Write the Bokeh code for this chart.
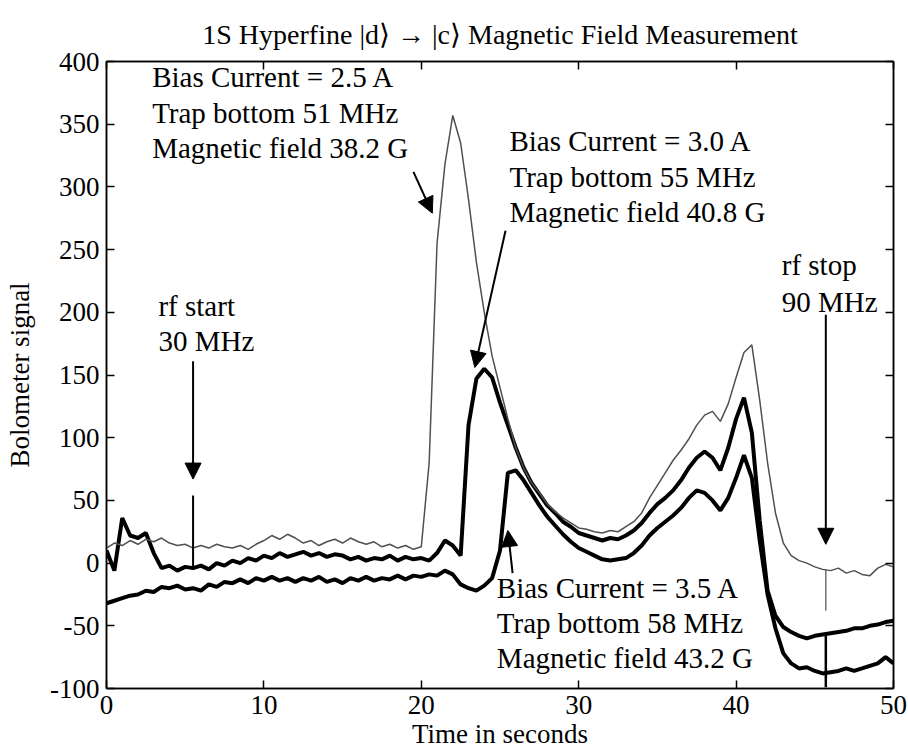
import numpy as np
from bokeh.plotting import figure
from bokeh.models import (Range1d, LinearAxis, FixedTicker, Arrow, NormalHead, Label)
from bokeh.embed import file_html
from bokeh.resources import INLINE

# ---------------- data ----------------
time_s = np.arange(0, 50.5, 0.5)

bias_25A = [12, 16, 14, 18, 15, 19, 17, 20, 16, 14,
            15, 12, 14, 12, 15, 13, 12, 14, 11, 15,
            18, 22, 19, 23, 20, 16, 18, 14, 17, 19,
            16, 20, 17, 15, 17, 13, 15, 12, 14, 11,
            13, 80, 255, 318, 357, 335, 290, 240, 200, 165,
            140, 115, 92, 76, 64, 56, 47, 41, 36, 32,
            28, 27, 25, 24, 26, 25, 29, 33, 40, 52,
            62, 72, 82, 90, 99, 110, 118, 121, 113, 127,
            148, 168, 174, 130, 80, 40, 16, 6, 2, 0,
            -3, -5, -6, -4, -8, -6, -9, -10, -4, -1,
            -3]

bias_30A = [10, -6, 36, 22, 20, 24, 8, -4, -2, -6,
            -3, -4, -2, -5, 0, -2, 2, 0, 4, 2,
            6, 4, 8, 5, 7, 9, 6, 8, 5, 7,
            6, 3, 5, 2, 4, 3, 6, 2, 5, 3,
            4, 2, 8, 18, 14, 6, 110, 147, 155, 148,
            128, 110, 92, 76, 64, 55, 46, 40, 33, 29,
            24, 22, 20, 18, 20, 19, 22, 26, 32, 40,
            47, 52, 58, 66, 76, 84, 89, 84, 74, 92,
            115, 132, 104, 34, -22, -42, -51, -55, -58, -60,
            -58, -57, -56, -55, -54, -52, -52, -50, -49, -47,
            -46]

bias_35A = [-32, -30, -28, -26, -25, -22, -23, -19, -20, -18,
            -21, -20, -22, -17, -19, -15, -16, -13, -16, -12,
            -14, -11, -14, -12, -15, -12, -14, -11, -15, -13,
            -16, -12, -14, -11, -14, -12, -13, -10, -13, -10,
            -11, -9, -10, -6, -9, -17, -20, -22, -18, -12,
            10, 72, 74, 66, 56, 46, 37, 30, 23, 17,
            12, 9, 6, 3, 2, 3, 4, 8, 14, 22,
            28, 33, 38, 44, 52, 58, 56, 50, 42, 52,
            68, 86, 68, 18, -25, -52, -72, -80, -84, -83,
            -86, -88, -87, -86, -84, -86, -84, -82, -80, -75,
            -80]

# rf artefacts (time, from, to)
rf_start_t, rf_start_spike = 5.5, [-4, 54]
rf_stop_t, rf_stop_spike_dark, rf_stop_spike_thin = 45.7, [-99, -56], [-5, -38]

# annotation arrows: tail (x, y) -> head (x, y)
arrow_x0 = [19.5, 25.35, 25.8, 5.5, 45.7]
arrow_y0 = [312, 265, -8, 161, 198]
arrow_x1 = [20.7, 23.4, 25.5, 5.5, 45.7]
arrow_y1 = [279, 156, 26, 67, 15]

x_ticks = [0, 10, 20, 30, 40, 50]
y_ticks = [-100, -50, 0, 50, 100, 150, 200, 250, 300, 350, 400]

title_text = "1S Hyperfine |d\u27e9 \u2192 |c\u27e9 Magnetic Field Measurement"

FONT = "Liberation Serif"

p = figure(width=908, height=756, output_backend="svg", toolbar_location=None,
           x_range=Range1d(0, 50), y_range=Range1d(-100, 400),
           min_border_left=106, min_border_right=15, min_border_top=61,
           min_border_bottom=68, title=title_text)
p.title.align = "center"
p.title.vertical_align = "top"
p.title.offset = 50
p.title.standoff = 20
p.title.text_font = FONT
p.title.text_font_size = "28px"
p.title.text_font_style = "normal"
p.title.text_color = "black"
p.grid.visible = False
p.outline_line_color = "black"
p.outline_line_width = 1.5
p.background_fill_color = "white"
p.border_fill_color = "white"

for ax, ticks in ((p.xaxis[0], x_ticks), (p.yaxis[0], y_ticks)):
    ax.ticker = FixedTicker(ticks=ticks)
    ax.major_tick_in = 8
    ax.major_tick_out = 0
    ax.minor_tick_line_color = None
    ax.axis_line_width = 1.5
    ax.major_tick_line_width = 1.5
    ax.major_label_text_font = FONT
    ax.major_label_text_font_size = "27px"
    ax.major_label_text_color = "black"
    ax.axis_label_text_font = FONT
    ax.axis_label_text_font_size = "27px"
    ax.axis_label_text_font_style = "normal"
    ax.axis_label_text_color = "black"
    ax.major_label_standoff = 7

p.yaxis[0].major_label_overrides = {v: str(v) for v in y_ticks}
p.xaxis[0].axis_label = "Time in seconds"
p.yaxis[0].axis_label = "Bolometer signal"
p.yaxis[0].axis_label_standoff = 12
p.xaxis[0].axis_label_standoff = 2

top = LinearAxis(ticker=FixedTicker(ticks=x_ticks), major_label_text_font_size="0px",
                 major_tick_in=8, major_tick_out=0, minor_tick_line_color=None,
                 axis_line_width=1.5, major_tick_line_width=1.5, major_label_standoff=0)
right = LinearAxis(ticker=FixedTicker(ticks=y_ticks), major_label_text_font_size="0px",
                   major_tick_in=8, major_tick_out=0, minor_tick_line_color=None,
                   axis_line_width=1.5, major_tick_line_width=1.5, major_label_standoff=0)
p.add_layout(top, "above")
p.add_layout(right, "right")

# traces
p.line(time_s, bias_35A, line_color="black", line_width=4)
p.line(time_s, bias_30A, line_color="black", line_width=4)
p.line(time_s, bias_25A, line_color="#505050", line_width=1.5)

# rf artefact spikes
p.segment(x0=[rf_start_t], y0=[rf_start_spike[0]], x1=[rf_start_t], y1=[rf_start_spike[1]],
          line_color="black", line_width=2)
p.segment(x0=[rf_stop_t], y0=[rf_stop_spike_dark[0]], x1=[rf_stop_t], y1=[rf_stop_spike_dark[1]],
          line_color="black", line_width=2.5)
p.segment(x0=[rf_stop_t], y0=[rf_stop_spike_thin[0]], x1=[rf_stop_t], y1=[rf_stop_spike_thin[1]],
          line_color="#505050", line_width=1.2)

# arrows
for xa, ya, xb, yb in zip(arrow_x0, arrow_y0, arrow_x1, arrow_y1):
    p.add_layout(Arrow(x_start=xa, y_start=ya, x_end=xb, y_end=yb, line_width=2,
                       line_color="black",
                       end=NormalHead(size=16, fill_color="black", line_color="black")))

# text annotations
blocks = [
    (2.9, [388, 359, 331], ["Bias Current = 2.5 A", "Trap bottom 51 MHz", "Magnetic field 38.2 G"]),
    (25.6, [337, 308, 280], ["Bias Current = 3.0 A", "Trap bottom 55 MHz", "Magnetic field 40.8 G"]),
    (24.8, [-20, -48, -76], ["Bias Current = 3.5 A", "Trap bottom 58 MHz", "Magnetic field 43.2 G"]),
    (3.3, [205, 177], ["rf start", "30 MHz"]),
    (42.9, [238, 208], ["rf stop", "90 MHz"]),
]
for bx, ys, lines in blocks:
    for yy, txt in zip(ys, lines):
        p.add_layout(Label(x=bx, y=yy, text=txt, text_font=FONT, text_font_size="29px",
                           text_baseline="middle", text_align="left", text_color="black"))

open("out.html", "w").write(file_html(p, INLINE))
